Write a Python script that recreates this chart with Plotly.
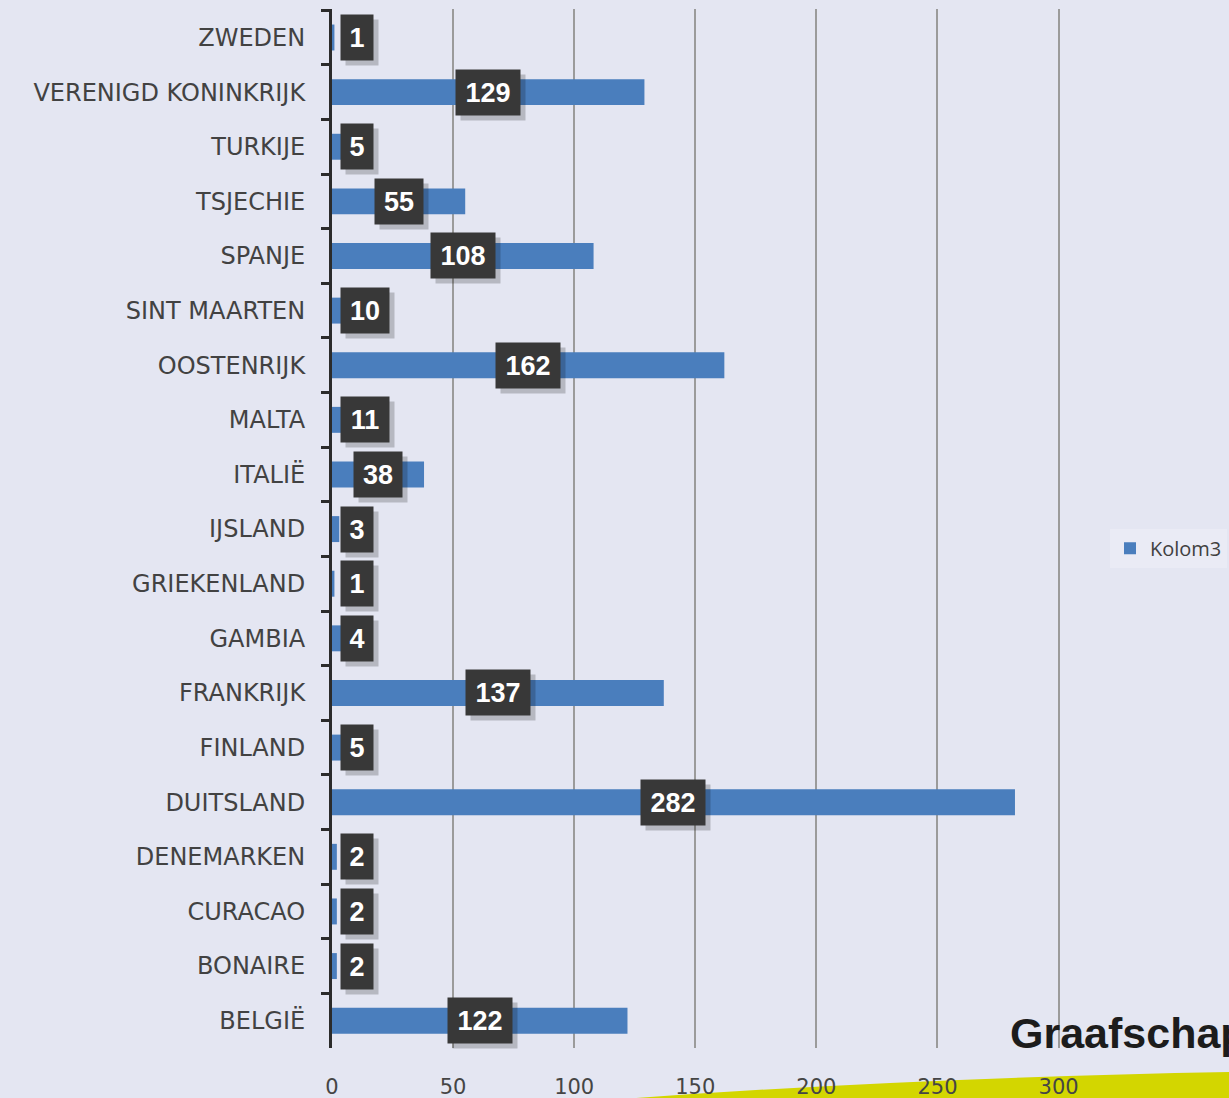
import plotly.graph_objects as go

# ---- data (top to bottom as displayed) ----
countries = ["ZWEDEN", "VERENIGD KONINKRIJK", "TURKIJE", "TSJECHIE", "SPANJE",
             "SINT MAARTEN", "OOSTENRIJK", "MALTA", "ITALIË", "IJSLAND",
             "GRIEKENLAND", "GAMBIA", "FRANKRIJK", "FINLAND", "DUITSLAND",
             "DENEMARKEN", "CURACAO", "BONAIRE", "BELGIË"]
values = [1, 129, 5, 55, 108, 10, 162, 11, 38, 3, 1, 4, 137, 5, 282, 2, 2, 2, 122]
series_name = "Kolom3"
x_ticks = [0, 50, 100, 150, 200, 250, 300]
x_max = 301
logo_text = "Graafschap"

BG = "#e4e6f2"
BAR = "#4a7ebd"
W, H = 1229, 1098
M_L, M_R, M_T, M_B = 332, 168, 9, 50
plot_w = W - M_L - M_R
plot_h = H - M_T - M_B
px_per_unit = plot_w / x_max

fig = go.Figure(go.Bar(
    y=countries, x=values, orientation="h", name=series_name, showlegend=True,
    marker=dict(color=BAR, line=dict(width=0)),
))

annotations = []
for c, v in zip(countries, values):
    t = str(v)
    w = 16 * len(t) + 6
    total = w + 10
    center_px = v / 2 * px_per_unit
    if center_px - total / 2 < 8:
        x, anchor, shift = 0, "left", 8
    else:
        x, anchor, shift = v / 2, "center", 0
    # shadow
    annotations.append(dict(
        x=x, y=c, xref="x", yref="y", text=t, showarrow=False,
        xanchor=anchor, yanchor="middle", xshift=shift + 5, yshift=-5,
        width=w, height=35, borderpad=5, bgcolor="rgba(0,0,0,0.20)",
        font=dict(family="Liberation Sans", size=27, color="rgba(0,0,0,0)"),
    ))
    annotations.append(dict(
        x=x, y=c, xref="x", yref="y", text="<b>" + t + "</b>", showarrow=False,
        xanchor=anchor, yanchor="middle", xshift=shift,
        width=w, height=35, borderpad=5, bgcolor="#383838",
        font=dict(family="Liberation Sans", size=27, color="white"),
    ))

# logo text
annotations.append(dict(
    x=(1008 - M_L) / plot_w, y=(H - M_B - 1033) / plot_h, xref="paper", yref="paper",
    text="<b>" + logo_text + "</b>", showarrow=False, xanchor="left", yanchor="middle",
    font=dict(family="Liberation Sans", size=43, color="#1c1c1c"),
))

def px2paper(px, py):
    return (px - M_L) / plot_w, (H - M_B - py) / plot_h

pts = [px2paper(610, 1100), px2paper(900, 1078), px2paper(1232, 1072), px2paper(1232, 1100)]
path = "M {:.4f},{:.4f} Q {:.4f},{:.4f} {:.4f},{:.4f} L {:.4f},{:.4f} Z".format(
    pts[0][0], pts[0][1], pts[1][0], pts[1][1], pts[2][0], pts[2][1], pts[3][0], pts[3][1])

fig.update_layout(
    width=W, height=H,
    margin=dict(l=M_L, r=M_R, t=M_T, b=M_B, autoexpand=False),
    paper_bgcolor=BG, plot_bgcolor=BG,
    bargap=0.525,
    annotations=annotations,
    shapes=[dict(type="path", path=path, xref="paper", yref="paper",
                 fillcolor="#d3d600", line=dict(width=0), layer="below")],
    legend=dict(x=(1110 - M_L) / plot_w, y=0.481, xanchor="left", yanchor="middle",
                bgcolor="#eaebf5", font=dict(family="Open Sans", size=20, color="#404040")),
    xaxis=dict(range=[0, x_max], tickvals=x_ticks, ticktext=[str(t) for t in x_ticks],
               showgrid=True, gridcolor="#9b9b9b", gridwidth=2, zeroline=False,
               showline=False, ticks="", ticklabelstandoff=24, automargin=False,
               tickfont=dict(family="DejaVu Sans", size=21, color="#454545")),
    yaxis=dict(type="category", autorange="reversed", showline=True, linecolor="#2b2b2b",
               linewidth=3, ticks="outside", tickson="boundaries", ticklen=8, tickwidth=3,
               tickcolor="#2b2b2b", ticklabelstandoff=19, showgrid=False, automargin=False,
               tickfont=dict(family="DejaVu Sans", size=24, color="#424242")),
)

fig.write_html("out.html", config={"displayModeBar": False},
               post_script="document.body.style.margin='0';document.body.style.overflow='hidden';")
